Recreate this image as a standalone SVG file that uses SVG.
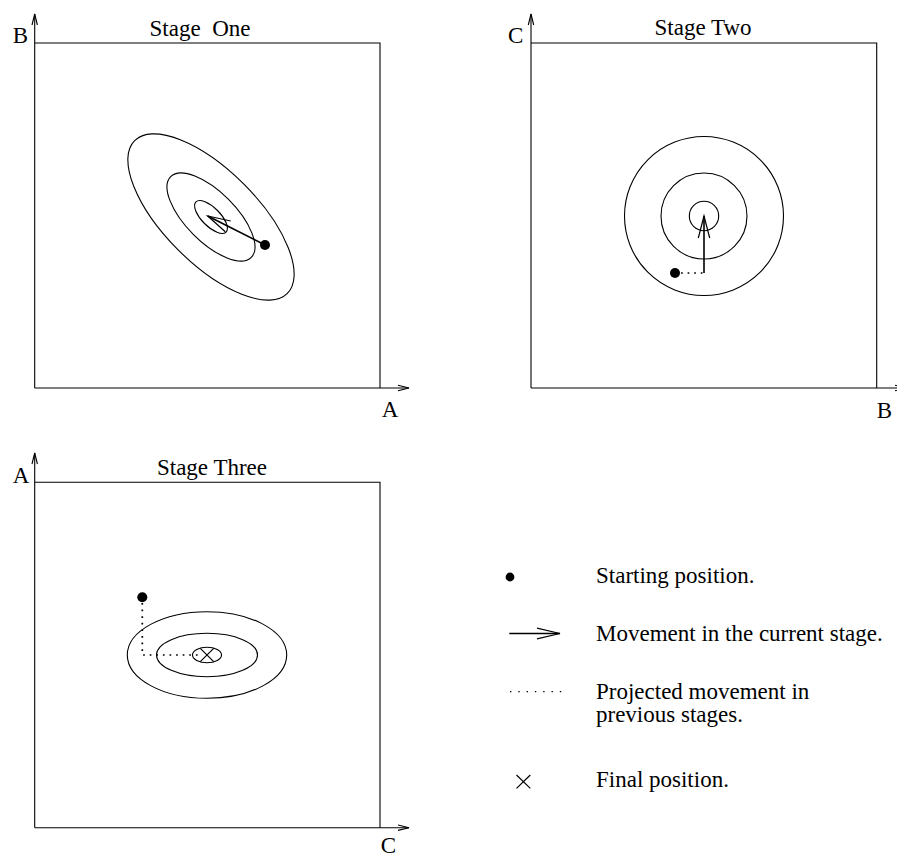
<svg xmlns="http://www.w3.org/2000/svg" width="897" height="857" viewBox="0 0 897 857">
  <style>
    .frame { fill: none; stroke: #000; stroke-width: 1.1; }
    .axis { fill: none; stroke: #000; stroke-width: 1.1; }
    .contour { fill: none; stroke: #000; stroke-width: 1.1; }
    .move { fill: none; stroke: #000; stroke-width: 1.6; }
    .head { fill: none; stroke: #000; stroke-width: 1.2; }
    .proj { fill: none; stroke: #000; stroke-width: 1.7; stroke-dasharray: 1.7 4.9; }
    .projlegend { fill: none; stroke: #000; stroke-width: 1.3; stroke-dasharray: 1.4 6.9; }
    .dot { fill: #000; }
    .cross { fill: none; stroke: #000; stroke-width: 1.2; }
    text { font-family: "Liberation Serif", "Times New Roman", serif; font-size: 23px; fill: #000; }
    .title { text-anchor: middle; }
  </style>

  <!-- Stage One: A horizontal, B vertical -->
  <g id="stage-one">
    <polyline class="frame" points="34.7,43 380,43 380,388"/>
    <line class="axis" x1="34.7" y1="388" x2="34.7" y2="14"/>
    <polyline class="axis" points="32,25 34.7,14 37.4,25"/>
    <line class="axis" x1="34.7" y1="388" x2="409" y2="388"/>
    <polyline class="axis" points="398,385.3 409,388 398,390.7"/>
    <text x="12.7" y="42.7">B</text>
    <text x="381.7" y="417.3">A</text>
    <text class="title" x="200" y="35.7">Stage&#160; One</text>
    <g transform="translate(211,217) rotate(45)">
      <ellipse class="contour" cx="0" cy="0" rx="108" ry="46.5"/>
      <ellipse class="contour" cx="0" cy="0" rx="57" ry="24.8"/>
      <ellipse class="contour" cx="0" cy="0" rx="21.3" ry="9.2"/>
    </g>
    <circle class="dot" cx="265" cy="245" r="5"/>
  </g>

  <!-- Stage Two: B horizontal, C vertical -->
  <g id="stage-two">
    <polyline class="frame" points="531,43 876.7,43 876.7,388"/>
    <line class="axis" x1="531" y1="388" x2="531" y2="14"/>
    <polyline class="axis" points="528.3,25 531,14 533.7,25"/>
    <line class="axis" x1="531" y1="388" x2="906" y2="388"/>
    <polyline class="axis" points="895,385.3 906,388 895,390.7"/>
    <text x="508" y="42.7">C</text>
    <text x="876.7" y="417.7">B</text>
    <text class="title" x="703" y="35">Stage Two</text>
    <circle class="contour" cx="704" cy="216" r="79.5"/>
    <circle class="contour" cx="704" cy="216" r="43"/>
    <circle class="contour" cx="704" cy="216" r="14.7"/>
    <circle class="dot" cx="675" cy="273" r="5"/>
  </g>

  <!-- Stage Three: C horizontal, A vertical -->
  <g id="stage-three">
    <polyline class="frame" points="34.7,482.3 380,482.3 380,827.7"/>
    <line class="axis" x1="34.7" y1="827.7" x2="34.7" y2="453"/>
    <polyline class="axis" points="32,464 34.7,453 37.4,464"/>
    <line class="axis" x1="34.7" y1="827.7" x2="409" y2="827.7"/>
    <polyline class="axis" points="398,825 409,827.7 398,830.4"/>
    <text x="12.7" y="482.7">A</text>
    <text x="380.7" y="853">C</text>
    <text class="title" x="212" y="475">Stage Three</text>
    <ellipse class="contour" cx="207" cy="655" rx="79.7" ry="43.3"/>
    <ellipse class="contour" cx="207" cy="655" rx="50.5" ry="21.7"/>
    <ellipse class="contour" cx="207" cy="655" rx="14.5" ry="7.7"/>
    <circle class="dot" cx="142.3" cy="597.3" r="5"/>
    <path class="cross" d="M200.3,648.3 L213.7,661.7 M213.7,648.3 L200.3,661.7"/>
  </g>

  <!-- Movements between positions -->
  <g id="connectors">
    <!-- Stage One: straight move from the start toward the valley -->
    <line class="move" x1="265" y1="245" x2="207.7" y2="216"/>
    <polyline class="head" points="225.3,231.7 207.7,216 230.7,221"/>
    <!-- Stage Two: projected shift then move along C -->
    <line class="proj" x1="681" y1="273" x2="704" y2="273"/>
    <line class="move" x1="704" y1="273" x2="704" y2="216"/>
    <polyline class="head" points="698.3,238 704,216 709.7,238"/>
    <!-- Stage Three: projected path into the final position -->
    <polyline class="proj" points="142.3,603 142.3,655 201,655"/>
  </g>

  <!-- Legend -->
  <g id="legend-start">
    <circle class="dot" cx="510" cy="577" r="4.4"/>
    <text x="596" y="583">Starting position.</text>
  </g>
  <g id="legend-move">
    <line class="move" x1="509.3" y1="633.5" x2="560" y2="633.5"/>
    <polyline class="head" points="537,628.2 560,633.5 537,638.8"/>
    <text x="596" y="641">Movement in the current stage.</text>
  </g>
  <g id="legend-projected">
    <line class="projlegend" x1="510" y1="691.7" x2="562" y2="691.7"/>
    <text x="596" y="699">Projected movement in</text>
    <text x="596" y="722">previous stages.</text>
  </g>
  <g id="legend-final">
    <path class="cross" d="M516.5,775 L530.3,788.4 M530.3,775 L516.5,788.4"/>
    <text x="596" y="787">Final position.</text>
  </g>
</svg>
